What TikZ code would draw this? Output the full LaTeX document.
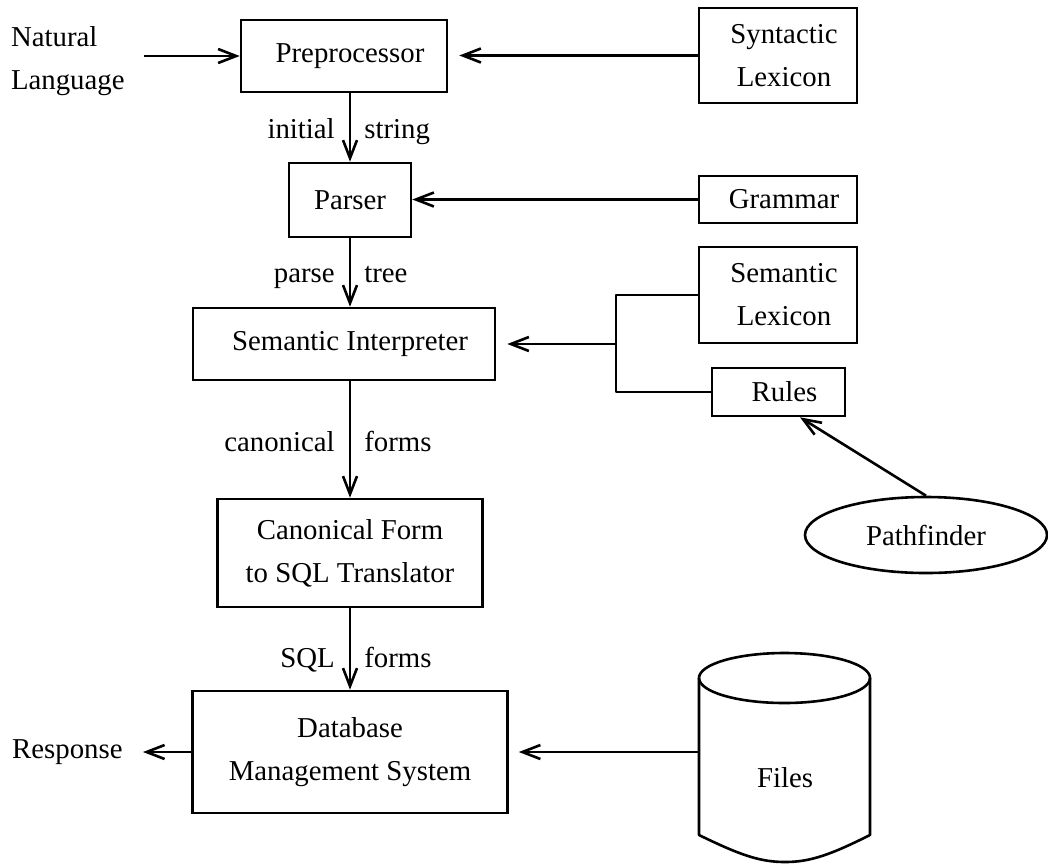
\documentclass[tikz,border=0pt]{standalone}
\usepackage{fontspec}
\setmainfont{Liberation Serif}
\usetikzlibrary{arrows.meta,shapes.geometric}
\newcommand{\boxnudge}{\hspace*{6pt}}
\begin{document}
\begin{tikzpicture}[x=0.5pt,y=-0.5pt,
  every node/.style={font=\fontsize{14.4}{21.5}\selectfont},
  box/.style={draw,line width=1.3pt,inner sep=0pt,align=center},
  conn/.style={line width=1.3pt,line join=round},
  arr/.style={conn,-{Straight Barb[length=9pt,width=7pt]}},
  lblL/.style={anchor=base east,inner sep=0pt,xshift=-7pt},
  lblR/.style={anchor=base west,inner sep=0pt,xshift=6.5pt}]
\useasboundingbox (0,0) rectangle (1048,863);

% main pipeline
\node[box,minimum width=103pt,minimum height=36pt] (pre) at (344,56) {\boxnudge Preprocessor};
\node[box,minimum width=61pt,minimum height=37pt] (parser) at (350,200) {Parser};
\node[box,minimum width=151pt,minimum height=36pt] (si) at (344,344) {\boxnudge Semantic Interpreter};
\node[box,minimum width=132.5pt,minimum height=54pt] (cf) at (350,553) {Canonical Form\\to SQL Translator};
\node[box,minimum width=157.5pt,minimum height=61pt] (dbms) at (350,752) {Database\\Management System};

% knowledge sources
\node[box,minimum width=79pt,minimum height=47.5pt] (syn) at (778,55.5) {\boxnudge Syntactic\\\boxnudge Lexicon};
\node[box,minimum width=79pt,minimum height=23.5pt] (gram) at (778,199.5) {\boxnudge Grammar};
\node[box,minimum width=79pt,minimum height=48pt] (seml) at (778,295) {\boxnudge Semantic\\\boxnudge Lexicon};
\node[box,minimum width=66.5pt,minimum height=24pt] (rules) at (778.5,392) {\boxnudge Rules};
\node[draw,line width=1.3pt,ellipse,inner sep=0pt,minimum width=121pt,minimum height=38pt] (pf) at (926,535) {Pathfinder};

% input and output
\node[anchor=east,align=left,inner xsep=9.5pt,inner ysep=0pt] (nl) at (144,61) {Natural\\Language};
\node[anchor=east,inner xsep=10pt] (resp) at (143,752) {Response};

% files store
\draw[conn] (784.5,678) ellipse [x radius=42.75pt,y radius=12.5pt];
\draw[conn] (699,678) -- (699,835) .. controls (740,855) and (760,862) .. (785,862)
  .. controls (810,862) and (830,855) .. (870,835) -- (870,678);
\node (files) at (785,778) {Files};
\coordinate (cylside) at (699,752);

% vertical flow
\draw[arr] (pre.south -| parser.center) -- node[pos=.66,lblL] {initial} node[pos=.66,lblR] {string} (parser.north);
\draw[arr] (parser.south) -- node[pos=.65,lblL] {parse} node[pos=.65,lblR] {tree} (si.north -| parser.center);
\draw[arr] (si.south -| cf.north) -- node[pos=.605,lblL] {canonical} node[pos=.605,lblR] {forms} (cf.north);
\draw[arr] (cf.south) -- node[pos=.726,lblL] {SQL} node[pos=.726,lblR] {forms} (dbms.north);

% side inputs
\draw[arr] (nl.east |- pre.west) -- (pre.west);
\draw[arr,shorten >=5.5pt] (syn.west) -- (syn.west -| pre.east);
\draw[arr] (gram.west) -- (gram.west -| parser.east);
\coordinate (brk) at (616,344);
\draw[conn] (seml.west) -| (brk) |- (rules.west);
\draw[arr,shorten >=5.5pt] (brk) -- (brk -| si.east);
\draw[arr] (pf.north) -- ([xshift=10.75pt]rules.south);
\draw[arr,shorten >=5pt] (cylside) -- (cylside -| dbms.east);
\draw[arr] (dbms.west) -- (resp.east);
\end{tikzpicture}
\end{document}
